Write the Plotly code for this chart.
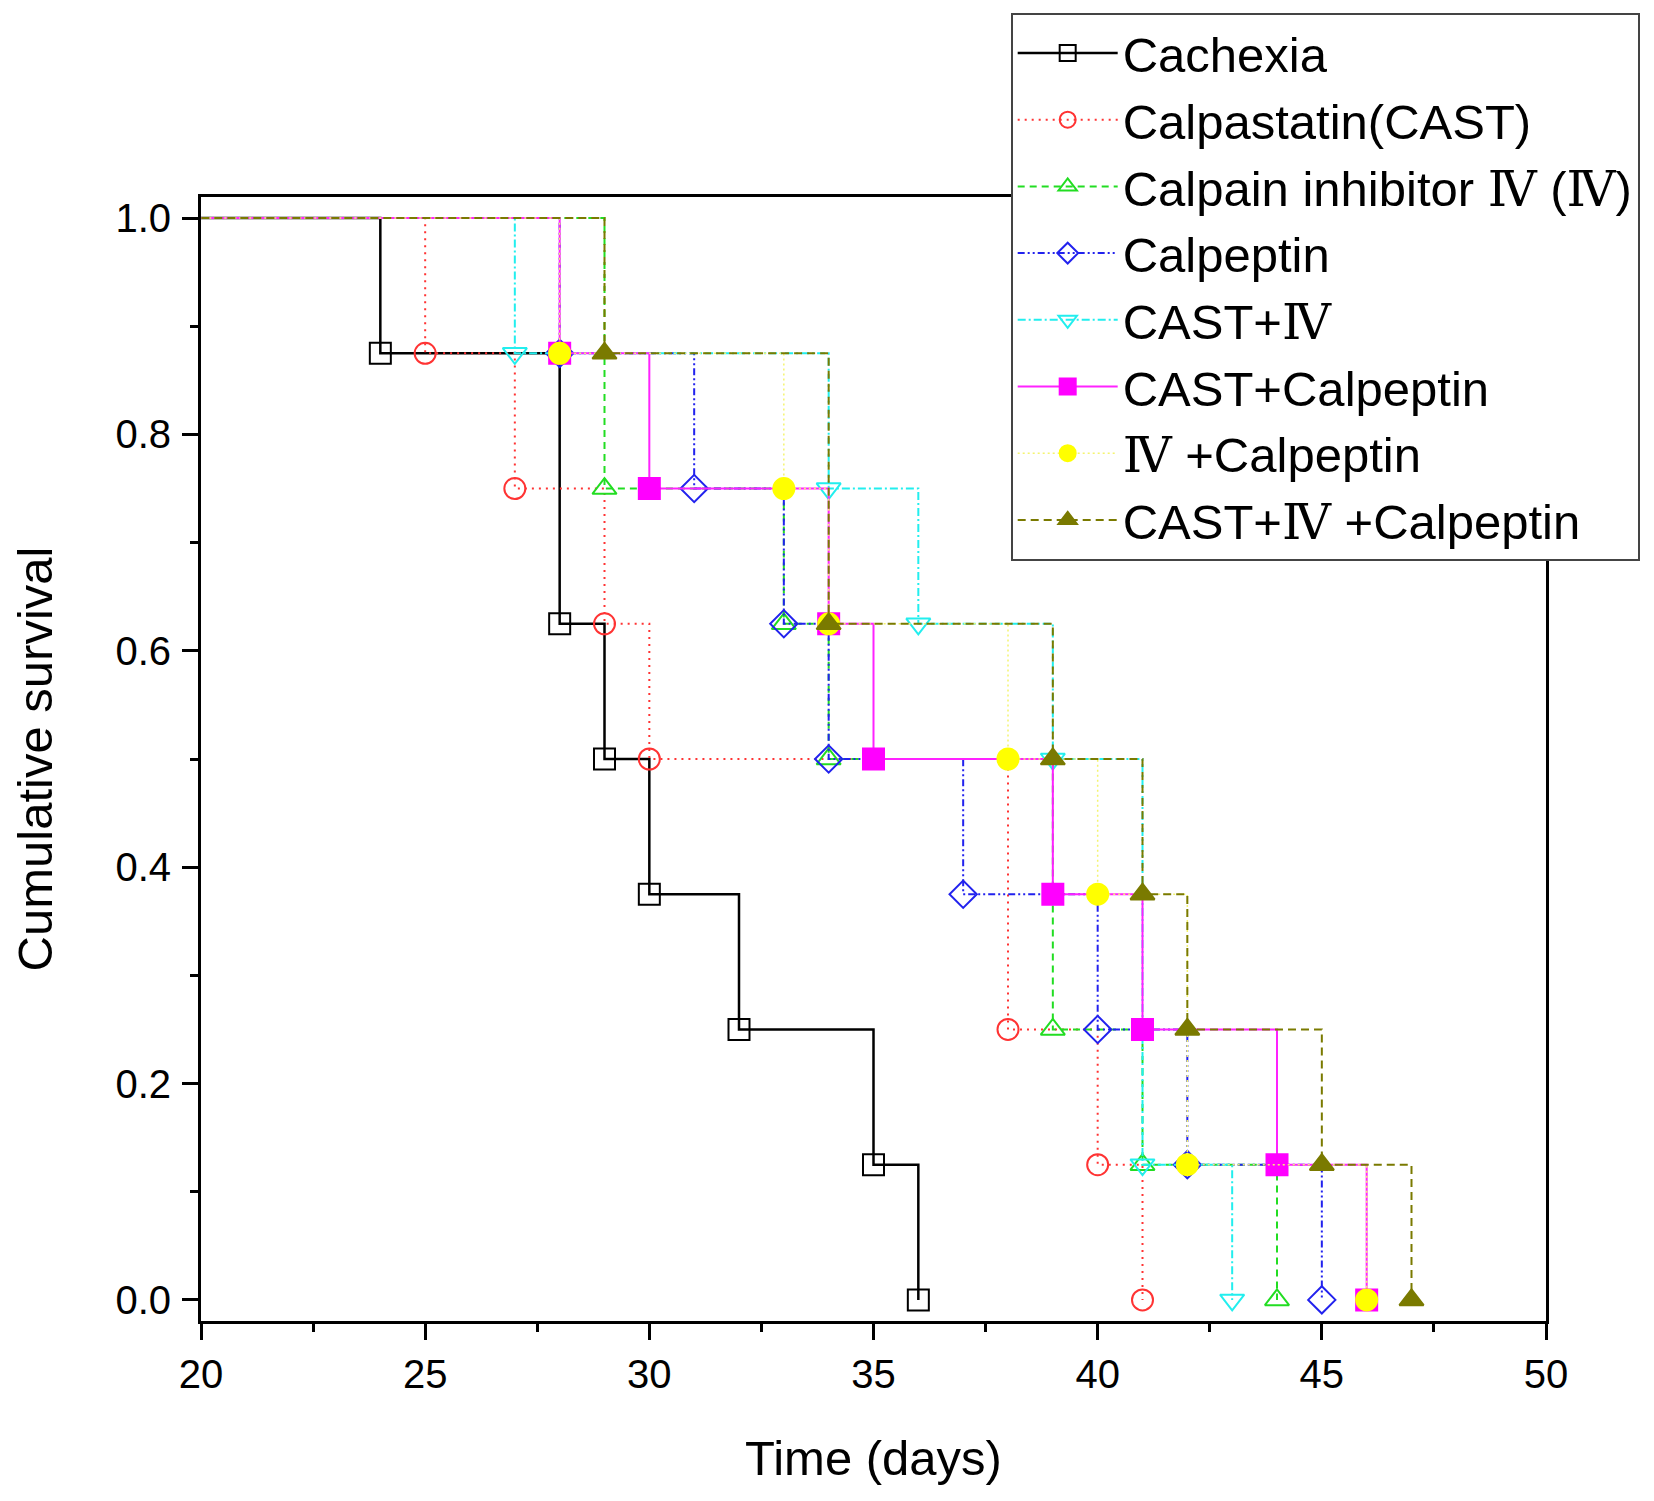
import plotly.graph_objects as go

# Kaplan-Meier survival, n=8 per group -> steps of 0.125
cachexia_t = [0, 24, 28, 29, 30, 32, 35, 36]
cachexia_s = [1.0, 0.875, 0.625, 0.5, 0.375, 0.25, 0.125, 0.0]

cast_t = [0, 25, 27, 29, 30, 38, 40, 41]
cast_s = [1.0, 0.875, 0.75, 0.625, 0.5, 0.25, 0.125, 0.0]

iv_t = [0, 29, 33, 34, 39, 41, 44]
iv_s = [1.0, 0.75, 0.625, 0.5, 0.25, 0.125, 0.0]

calpeptin_t = [0, 28, 31, 33, 34, 37, 40, 42, 45]
calpeptin_s = [1.0, 0.875, 0.75, 0.625, 0.5, 0.375, 0.25, 0.125, 0.0]

cast_iv_t = [0, 27, 34, 36, 39, 41, 43]
cast_iv_s = [1.0, 0.875, 0.75, 0.625, 0.5, 0.125, 0.0]

cast_calp_t = [0, 28, 30, 34, 35, 39, 41, 44, 46]
cast_calp_s = [1.0, 0.875, 0.75, 0.625, 0.5, 0.375, 0.25, 0.125, 0.0]

iv_calp_t = [0, 28, 33, 34, 38, 40, 42, 46]
iv_calp_s = [1.0, 0.875, 0.75, 0.625, 0.5, 0.375, 0.125, 0.0]

all3_t = [0, 29, 34, 39, 41, 42, 45, 47]
all3_s = [1.0, 0.875, 0.625, 0.5, 0.375, 0.25, 0.125, 0.0]

x_ticks = [20, 25, 30, 35, 40, 45, 50]
y_ticks = [0.0, 0.2, 0.4, 0.6, 0.8, 1.0]

IV = '<span style="font-family:\'DejaVu Serif\',\'Noto Sans CJK SC\',serif">Ⅳ</span>'

# name, times, survival, line colour, marker colour, dash, width, symbol
series = [
    ('Cachexia', cachexia_t, cachexia_s, '#000000', '#000000', 'solid', 2.5, 'square-open'),
    ('Calpastatin(CAST)', cast_t, cast_s, '#FF3333', '#FF3333', '2px,5px', 2, 'circle-open'),
    (f'Calpain inhibitor {IV} ({IV})', iv_t, iv_s, '#22DD22', '#22DD22', '7px,5px', 2, 'triangle-up-open'),
    ('Calpeptin', calpeptin_t, calpeptin_s, '#2222EE', '#2222EE', '7px,3px,2px,3px,2px,3px', 2, 'diamond-open'),
    (f'CAST+{IV}', cast_iv_t, cast_iv_s, '#22EEEE', '#22EEEE', '8px,3px,2px,3px', 2, 'triangle-down-open'),
    ('CAST+Calpeptin', cast_calp_t, cast_calp_s, '#FF22FF', '#FF00FF', 'solid', 2, 'square'),
    (f'{IV} +Calpeptin', iv_calp_t, iv_calp_s, '#F4F470', '#FFFF00', '2px,3px', 1.5, 'circle'),
    (f'CAST+{IV} +Calpeptin', all3_t, all3_s, '#7A7A00', '#7A7A00', '8px,5px', 2, 'triangle-up'),
]

fig = go.Figure()
for name, t, s, lcolor, mcolor, dash, lw, sym in series:
    fig.add_trace(go.Scatter(
        x=t, y=s, name=name,
        mode='lines+markers',
        line=dict(shape='hv', color=lcolor, dash=dash, width=lw),
        marker=dict(symbol=sym, size=21, color=mcolor,
                    line=dict(color=mcolor, width=2)),
    ))

font = 'Liberation Sans, Arial, sans-serif'
fig.update_layout(
    width=1654, height=1501,
    margin=dict(l=193, r=116, t=189, b=188, autoexpand=False),
    paper_bgcolor='white', plot_bgcolor='white',
    font=dict(family=font, color='black'),
    legend=dict(
        x=0.602, y=1.164, xanchor='left', yanchor='top',
        bgcolor='white', bordercolor='#444444', borderwidth=2,
        font=dict(size=49, family=font),
        itemwidth=100, tracegroupgap=0,
    ),
    xaxis=dict(
        range=[20, 50], tickvals=x_ticks,
        showline=True, linecolor='black', linewidth=3, mirror=True,
        ticks='outside', ticklen=16, tickwidth=3, tickcolor='black',
        minor=dict(dtick=2.5, ticks='outside', ticklen=8, tickwidth=3, tickcolor='black'),
        showgrid=False, zeroline=False,
        tickfont=dict(size=40), ticklabelstandoff=0,
        title=dict(text='Time (days)', font=dict(size=49), standoff=46),
    ),
    yaxis=dict(
        range=[-0.0195, 1.0195], tickvals=y_ticks, tickformat='.1f',
        showline=True, linecolor='black', linewidth=3, mirror=True,
        ticks='outside', ticklen=16, tickwidth=3, tickcolor='black',
        minor=dict(dtick=0.1, ticks='outside', ticklen=8, tickwidth=3, tickcolor='black'),
        showgrid=False, zeroline=False,
        tickfont=dict(size=40), ticklabelstandoff=3,
        title=dict(text='Cumulative survival', font=dict(size=49), standoff=55),
    ),
)

fig.write_html('out.html')
